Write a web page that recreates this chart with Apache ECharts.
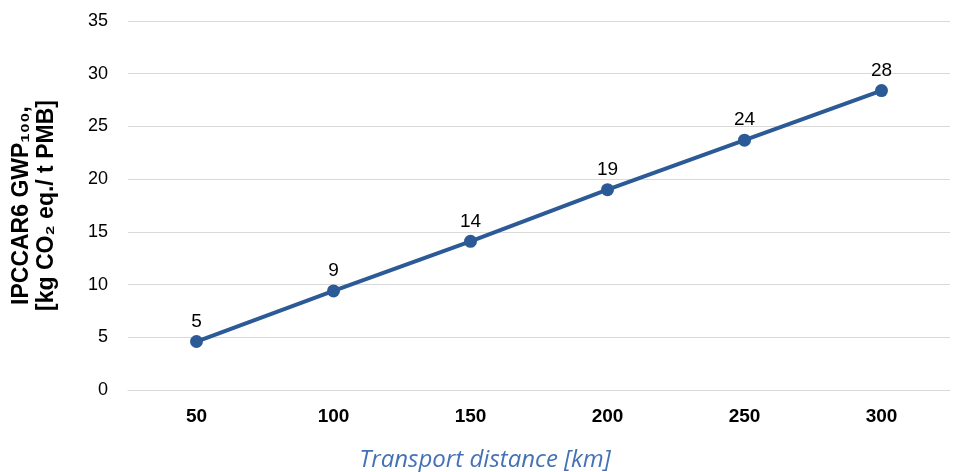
<!DOCTYPE html>
<html><head><meta charset="utf-8">
<script src="https://cdn.jsdelivr.net/npm/echarts@6/dist/echarts.min.js"></script>
<style>html,body{margin:0;padding:0;background:#fff}#c{width:953px;height:472px}</style>
</head><body><div id="c"></div>
<script>
const categories = ['50','100','150','200','250','300'];
const values = [4.6, 9.4, 14.1, 19.0, 23.7, 28.4];
const yTicks = [0,5,10,15,20,25,30,35];

const chart = echarts.init(document.getElementById('c'));
chart.setOption({
  animation: false,
  grid: {left: 128, right: 3, top: 21, bottom: 82, containLabel: false, outerBoundsMode: 'none'},
  xAxis: {
    type: 'category', data: categories, boundaryGap: true,
    axisLine: {show: true, lineStyle: {color: '#d9d9d9'}},
    axisTick: {show: false},
    axisLabel: {color: '#000', fontWeight: 'bold', fontSize: 19, fontFamily: 'Liberation Sans, Arial', margin: 17},
    name: 'Transport distance [km]', nameLocation: 'middle', nameGap: 58,
    nameTextStyle: {color: '#4472b4', fontStyle: 'italic', fontSize: 24, fontFamily: 'Open Sans, Noto Sans',
      padding: [0, 108, 0, 0]}
  },
  yAxis: {
    type: 'value', min: 0, max: 35, interval: 5,
    axisLine: {show: false}, axisTick: {show: false},
    splitLine: {lineStyle: {color: '#d9d9d9', width: 1}},
    axisLabel: {color: '#000', fontSize: 18, fontFamily: 'Liberation Sans, Arial', margin: 20,
      formatter: v => yTicks.includes(v) ? String(v) : ''},
    name: 'IPCCAR6 GWP\u2081\u2080\u2080,\n[kg CO\u2082 eq./ t PMB]', nameLocation: 'middle', nameGap: 69, nameRotate: 90,
    nameTextStyle: {color: '#000', fontWeight: 'bold', fontSize: 23, lineHeight: 25, fontFamily: 'Liberation Sans, Arial'}
  },
  series: [{
    type: 'line', data: values,
    symbol: 'circle', symbolSize: 13,
    lineStyle: {color: '#2c5a96', width: 4},
    itemStyle: {color: '#2c5a96'},
    label: {show: true, position: 'top', distance: 4, color: '#000', fontSize: 19, fontFamily: 'Liberation Sans, Arial',
      formatter: p => Math.round(p.value)}
  }]
});
</script></body></html>
